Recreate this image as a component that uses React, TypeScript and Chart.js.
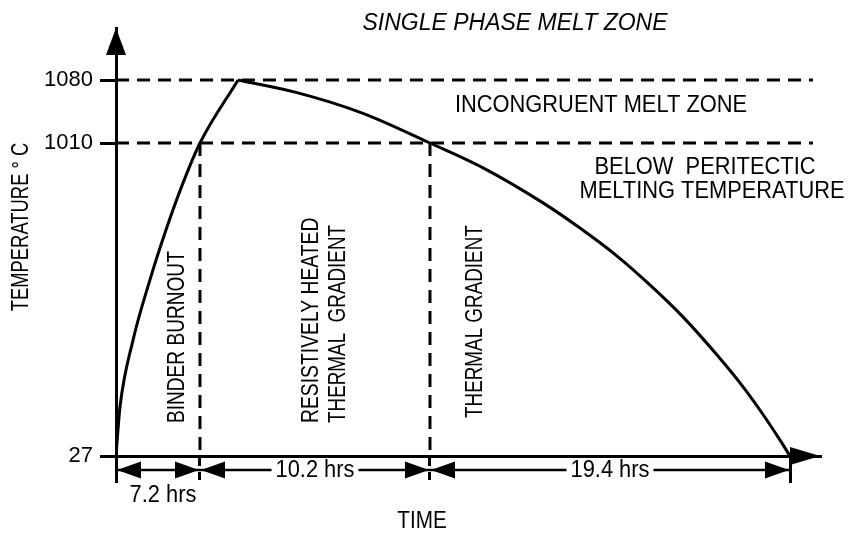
import React, { useEffect, useRef } from "react";
import { Chart, registerables, LinearScale } from "chart.js";

Chart.register(...registerables);

// ---------- data ----------
const PHASE_BOUNDARIES_HRS = [0, 7.2, 17.4, 36.8];
const PHASE_DURATION_LABELS = ["7.2 hrs", "10.2 hrs", "19.4 hrs"];
const TEMP_TICKS = [27, 1010, 1080];
const HEATING_TIME = [0, 0.17, 0.34, 1.46, 2.91, 4.37, 5.74, 7.2, 8.89];
const HEATING_TEMP = [27, 109, 181, 391, 580, 746, 884, 1010, 1080];
const COOLING_TIME = [8.89, 11.5, 14.43, 17.4, 20.26, 23.49, 25.48, 27.48, 29.09, 31.03, 32.87, 34.27, 35.29, 36.15, 36.8];
const COOLING_TEMP = [1080, 1066, 1043, 1010, 932, 822, 743, 655, 573, 464, 344, 244, 162, 87, 27];
const ZONE_LINE_END_HRS = 38.1;
const X_MAX_HRS = 38.5;
const Y_MAX_TEMP = 1150;

// schematic (non-linear) axis: value breakpoints -> fraction of the axis length
const AXIS_MAPS: Record<string, { breaks: number[]; fractions: number[] }> = {
  x: { breaks: [0, 7.2, 17.4, 36.8, X_MAX_HRS], fractions: [0, 0.1193, 0.446, 0.9574, 1] },
  y: { breaks: [27, 1010, 1080, Y_MAX_TEMP], fractions: [0, 0.7313, 0.8785, 1] },
};

function interp(xs: number[], ys: number[], v: number) {
  const n = xs.length;
  let i = 0;
  if (v >= xs[n - 1]) i = n - 2;
  else if (v > xs[0]) {
    while (i < n - 2 && v > xs[i + 1]) i++;
  }
  const t = (v - xs[i]) / (xs[i + 1] - xs[i]);
  return ys[i] + t * (ys[i + 1] - ys[i]);
}

class PiecewiseScale extends LinearScale {
  static id = "piecewise";
  static defaults = LinearScale.defaults;
  getPixelForValue(value: number) {
    const m = AXIS_MAPS[(this as any).id];
    return this.getPixelForDecimal(interp(m.breaks, m.fractions, value));
  }
  getValueForPixel(pixel: number) {
    const m = AXIS_MAPS[(this as any).id];
    return interp(m.fractions, m.breaks, this.getDecimalForPixel(pixel));
  }
}
Chart.register(PiecewiseScale as any);

const FONT = '"Liberation Sans", Arial, Helvetica, sans-serif';
const BLACK = "#000";

function drawText(
  ctx: CanvasRenderingContext2D,
  s: string,
  x: number,
  y: number,
  opts: { size?: number; sx?: number; rot?: number; align?: CanvasTextAlign; italic?: boolean } = {}
) {
  const { size = 23, sx = 0.95, rot = 0, align = "center", italic = false } = opts;
  ctx.save();
  ctx.translate(x, y);
  if (rot) ctx.rotate(rot);
  ctx.scale(sx, 1);
  ctx.font = `${italic ? "italic " : ""}${size}px ${FONT}`;
  ctx.fillStyle = BLACK;
  ctx.textAlign = align;
  ctx.textBaseline = "middle";
  ctx.fillText(s, 0, 0);
  ctx.restore();
}

function arrowHead(ctx: CanvasRenderingContext2D, tipX: number, tipY: number, dir: "left" | "right" | "up", len: number, half: number) {
  ctx.beginPath();
  if (dir === "left") {
    ctx.moveTo(tipX, tipY);
    ctx.lineTo(tipX + len, tipY - half);
    ctx.lineTo(tipX + len, tipY + half);
  } else if (dir === "right") {
    ctx.moveTo(tipX, tipY);
    ctx.lineTo(tipX - len, tipY - half);
    ctx.lineTo(tipX - len, tipY + half);
  } else {
    ctx.moveTo(tipX, tipY);
    ctx.lineTo(tipX - half, tipY + len);
    ctx.lineTo(tipX + half, tipY + len);
  }
  ctx.closePath();
  ctx.fill();
}

const annotationPlugin = {
  id: "schematicAnnotations",
  afterDraw(chart: any) {
    const ctx: CanvasRenderingContext2D = chart.ctx;
    const xs = chart.scales.x;
    const area = chart.chartArea;
    ctx.save();
    ctx.fillStyle = BLACK;
    ctx.strokeStyle = BLACK;

    // axis arrows
    arrowHead(ctx, area.left, area.top, "up", 27, 10);
    arrowHead(ctx, area.right, area.bottom, "right", 30, 9);

    // duration dimension row
    const dimY = area.bottom + 14;
    ctx.lineWidth = 2.5;
    ctx.font = `23px ${FONT}`;
    for (let i = 0; i < PHASE_BOUNDARIES_HRS.length - 1; i++) {
      const x1 = xs.getPixelForValue(PHASE_BOUNDARIES_HRS[i]);
      const x2 = xs.getPixelForValue(PHASE_BOUNDARIES_HRS[i + 1]);
      const label = PHASE_DURATION_LABELS[i];
      const w = ctx.measureText(label).width * 0.95;
      const cx = (x1 + x2) / 2;
      const fits = x2 - x1 > w + 70;
      ctx.beginPath();
      if (fits) {
        ctx.moveTo(x1, dimY);
        ctx.lineTo(cx - w / 2 - 4, dimY);
        ctx.moveTo(cx + w / 2 + 4, dimY);
        ctx.lineTo(x2, dimY);
      } else {
        ctx.moveTo(x1, dimY);
        ctx.lineTo(x2, dimY);
      }
      ctx.stroke();
      arrowHead(ctx, x1 + 1, dimY, "left", 24, 8.5);
      arrowHead(ctx, x2 - 1, dimY, "right", 24, 8.5);
      if (fits) drawText(ctx, label, cx, dimY + 1);
      else drawText(ctx, label, cx + 5, dimY + 26);
    }

    // zone labels
    drawText(ctx, "SINGLE PHASE MELT ZONE", 515, 24, { italic: true, sx: 1.0 });
    drawText(ctx, "INCONGRUENT MELT ZONE", 601, 106);
    drawText(ctx, "BELOW  PERITECTIC", 705, 168);
    drawText(ctx, "MELTING TEMPERATURE", 712, 192);

    // phase labels (vertical)
    const up = -Math.PI / 2;
    drawText(ctx, "BINDER BURNOUT", 178, 423, { rot: up, align: "left", sx: 0.83 });
    drawText(ctx, "RESISTIVELY HEATED", 312, 423, { rot: up, align: "left", sx: 0.84 });
    drawText(ctx, "THERMAL  GRADIENT", 339, 423, { rot: up, align: "left", sx: 0.82 });
    drawText(ctx, "THERMAL GRADIENT", 476, 418, { rot: up, align: "left", sx: 0.82 });

    // axis titles
    drawText(ctx, "TEMPERATURE ° C", 22, 227, { rot: up, sx: 0.8 });
    drawText(ctx, "TIME", 422, 522, { sx: 0.9 });
    ctx.restore();
  },
};

const toPoints = (xsArr: number[], ysArr: number[]) => xsArr.map((x, i) => ({ x, y: ysArr[i] }));

export default function App() {
  const canvasRef = useRef<HTMLCanvasElement | null>(null);

  useEffect(() => {
    if (!canvasRef.current) return;
    const dash = [13, 8];
    const lineStyle = { borderColor: BLACK, borderWidth: 3, pointRadius: 0, fill: false, borderCapStyle: "butt" as const };
    const chart = new Chart(canvasRef.current, {
      type: "line",
      data: {
        datasets: [
          { label: "Heating", data: toPoints(HEATING_TIME, HEATING_TEMP), cubicInterpolationMode: "monotone", ...lineStyle },
          { label: "Cooling", data: toPoints(COOLING_TIME, COOLING_TEMP), cubicInterpolationMode: "monotone", ...lineStyle },
          {
            label: "Single phase melt limit",
            data: toPoints([0, ZONE_LINE_END_HRS], [TEMP_TICKS[2], TEMP_TICKS[2]]),
            borderDash: dash,
            ...lineStyle,
          },
          {
            label: "Peritectic limit",
            data: toPoints([0, ZONE_LINE_END_HRS], [TEMP_TICKS[1], TEMP_TICKS[1]]),
            borderDash: dash,
            ...lineStyle,
          },
          {
            label: "End of binder burnout",
            data: toPoints([PHASE_BOUNDARIES_HRS[1], PHASE_BOUNDARIES_HRS[1]], [TEMP_TICKS[1], TEMP_TICKS[0]]),
            borderDash: dash,
            ...lineStyle,
          },
          {
            label: "End of resistive heating",
            data: toPoints([PHASE_BOUNDARIES_HRS[2], PHASE_BOUNDARIES_HRS[2]], [TEMP_TICKS[1], TEMP_TICKS[0]]),
            borderDash: dash,
            ...lineStyle,
          },
        ],
      },
      options: {
        animation: false,
        responsive: false,
        parsing: false as any,
        layout: { padding: { left: 0, top: 28, right: 31, bottom: 0 } },
        plugins: { legend: { display: false }, tooltip: { enabled: false } },
        scales: {
          x: {
            type: "piecewise" as any,
            min: 0,
            max: X_MAX_HRS,
            afterBuildTicks: (scale: any) => {
              scale.ticks = PHASE_BOUNDARIES_HRS.map((v) => ({ value: v }));
            },
            afterFit: (scale: any) => {
              scale.height = 82;
            },
            ticks: { autoSkip: false, maxRotation: 0, callback: () => "" },
            grid: {
              drawOnChartArea: false,
              drawTicks: true,
              tickLength: 27,
              color: BLACK,
              lineWidth: 3,
              tickBorderDash: (c: any) =>
                c.tick && c.tick.value > PHASE_BOUNDARIES_HRS[0] && c.tick.value < PHASE_BOUNDARIES_HRS[PHASE_BOUNDARIES_HRS.length - 1]
                  ? [8, 6]
                  : [],
            },
            border: { display: true, color: BLACK, width: 3 },
          },
          y: {
            type: "piecewise" as any,
            min: TEMP_TICKS[0],
            max: Y_MAX_TEMP,
            afterBuildTicks: (scale: any) => {
              scale.ticks = TEMP_TICKS.map((v) => ({ value: v }));
            },
            afterFit: (scale: any) => {
              scale.width = 116;
            },
            ticks: {
              autoSkip: false,
              padding: 7,
              color: BLACK,
              font: { family: FONT, size: 22 },
              callback: (v: any) => String(v),
            },
            grid: { drawOnChartArea: false, drawTicks: true, tickLength: 16, color: BLACK, lineWidth: 3 },
            border: { display: true, color: BLACK, width: 3 },
          },
        },
      },
      plugins: [annotationPlugin],
    });
    return () => chart.destroy();
  }, []);

  return (
    <div style={{ position: "fixed", left: 0, top: 0, width: 851, height: 538, background: "#fff" }}>
      <canvas ref={canvasRef} width={851} height={538} style={{ display: "block", width: 851, height: 538 }} />
    </div>
  );
}
